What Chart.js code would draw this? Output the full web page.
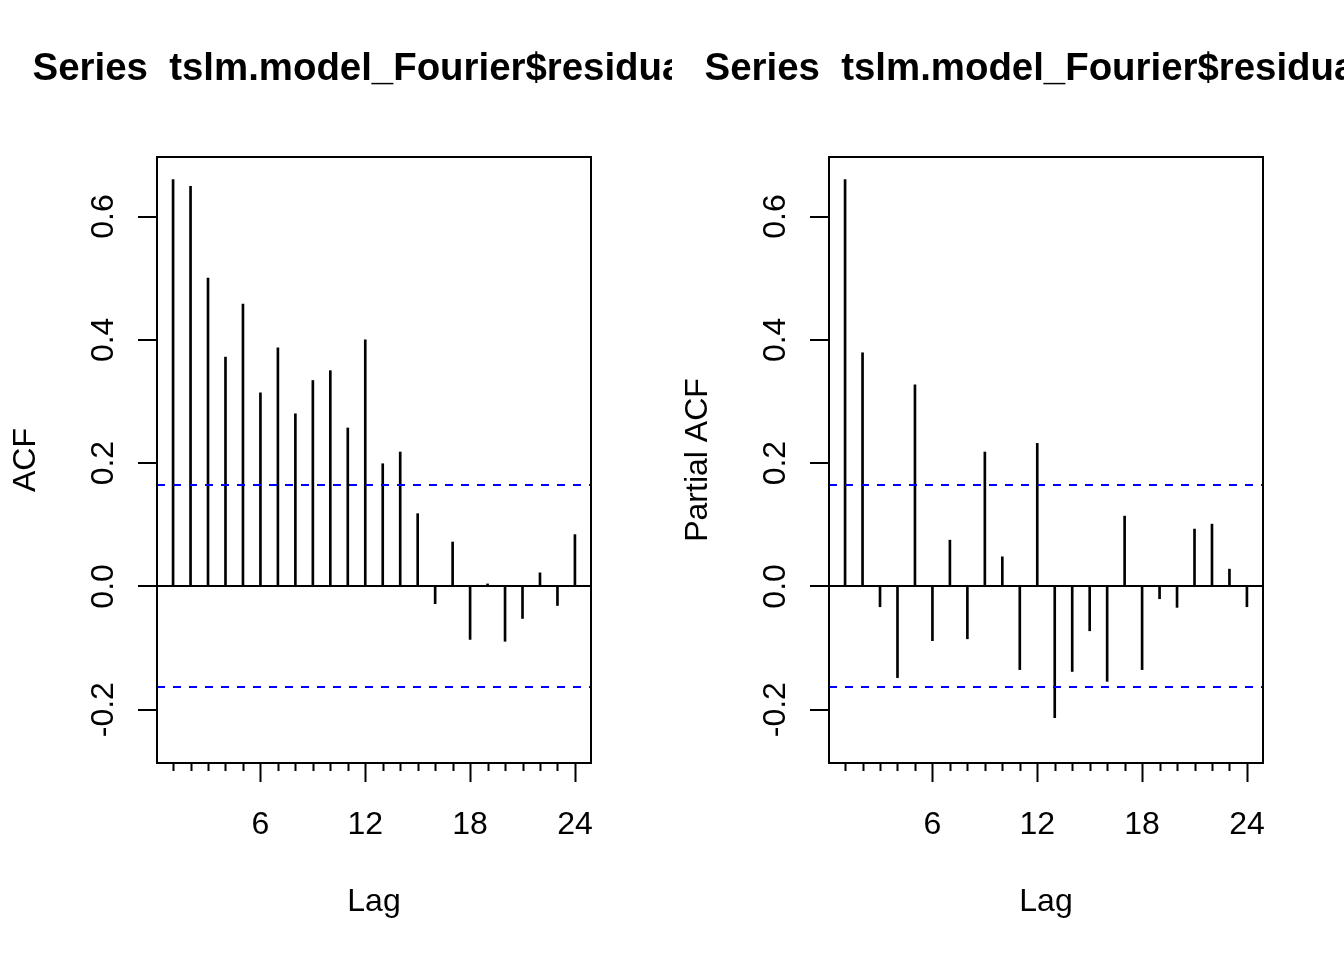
<!DOCTYPE html>
<html>
<head>
<meta charset="utf-8">
<script src="https://cdn.jsdelivr.net/npm/chart.js@4"></script>
<style>
  html, body { margin: 0; padding: 0; background: #ffffff; }
  #wrap { width: 1344px; height: 960px; display: flex; }
  canvas { display: block; }
</style>
</head>
<body>
<div id="wrap">
  <canvas id="acf" width="672" height="960"></canvas>
  <canvas id="pacf" width="672" height="960"></canvas>
</div>
<script>
// values
var lags = [1, 2, 3, 4, 5, 6, 7, 8, 9, 10, 11, 12, 13, 14, 15, 16, 17, 18, 19, 20, 21, 22, 23, 24];
var acf_values = [0.660, 0.649, 0.500, 0.372, 0.458, 0.314, 0.387, 0.280, 0.334, 0.350, 0.257, 0.400,
                  0.199, 0.218, 0.118, -0.028, 0.072, -0.086, 0.004, -0.089, -0.052, 0.022, -0.031, 0.084];
var pacf_values = [0.660, 0.379, -0.033, -0.148, 0.327, -0.088, 0.075, -0.085, 0.218, 0.048, -0.135, 0.232,
                   -0.213, -0.138, -0.072, -0.154, 0.114, -0.135, -0.020, -0.034, 0.093, 0.101, 0.028, -0.033];
var x_tick_labels = [6, 12, 18, 24];
var y_tick_values = [-0.2, 0.0, 0.2, 0.4, 0.6];
var conf_limit = 0.164;
var title_text = 'Series  tslm.model_Fourier$residuals';

const font_family = '"Liberation Sans", Arial, Helvetica, sans-serif';

// R style frame, ticks, labels and limit lines
var r_axes = {
    id: 'r_axes',
    afterDatasetsDraw(chart, args, opts) {
        var ctx = chart.ctx;
        var area = chart.chartArea;
        var xs = chart.scales.x;
        var ys = chart.scales.y;
        ctx.save();

        // zero line
        ctx.strokeStyle = '#000000';
        ctx.lineWidth = 2;
        var y0 = Math.round(ys.getPixelForValue(0));
        ctx.beginPath();
        ctx.moveTo(area.left, y0);
        ctx.lineTo(area.right, y0);
        ctx.stroke();

        // confidence limits
        ctx.strokeStyle = '#0000ff';
        ctx.setLineDash([8, 8]);
        [conf_limit, -conf_limit].forEach(function (v) {
            var yp = Math.round(ys.getPixelForValue(v));
            ctx.beginPath();
            ctx.moveTo(area.left, yp);
            ctx.lineTo(area.right, yp);
            ctx.stroke();
        });
        ctx.setLineDash([]);

        // frame
        ctx.strokeStyle = '#000000';
        ctx.strokeRect(area.left, area.top, area.right - area.left, area.bottom - area.top);

        // x ticks: minor at every lag, major at labels
        ctx.beginPath();
        lags.forEach(function (l) {
            var xp = Math.round(xs.getPixelForValue(l)) + 0.5;
            var len = x_tick_labels.indexOf(l) >= 0 ? 19 : 8;
            ctx.moveTo(xp, area.bottom);
            ctx.lineTo(xp, area.bottom + len);
        });
        // y ticks
        y_tick_values.forEach(function (v) {
            var yp = Math.round(ys.getPixelForValue(v));
            ctx.moveTo(area.left, yp);
            ctx.lineTo(area.left - 19, yp);
        });
        ctx.stroke();

        ctx.fillStyle = '#000000';
        ctx.font = '32px ' + font_family;
        ctx.textAlign = 'center';
        ctx.textBaseline = 'alphabetic';
        x_tick_labels.forEach(function (l) {
            ctx.fillText(String(l), xs.getPixelForValue(l), 834);
        });
        y_tick_values.forEach(function (v) {
            ctx.save();
            ctx.translate(113, ys.getPixelForValue(v));
            ctx.rotate(-Math.PI / 2);
            ctx.fillText(v.toFixed(1), 0, 0);
            ctx.restore();
        });

        var cx = (area.left + area.right) / 2;
        var cy = (area.top + area.bottom) / 2;
        ctx.fillText('Lag', cx, 911);
        ctx.save();
        ctx.translate(35, cy);
        ctx.rotate(-Math.PI / 2);
        ctx.fillText(opts.ylab, 0, 0);
        ctx.restore();

        ctx.font = 'bold 38.4px ' + font_family;
        ctx.fillText(title_text, cx, 80);
        ctx.restore();
    }
};

function make_chart(id, values, ylab) {
    return new Chart(document.getElementById(id), {
        type: 'bar',
        data: {
            datasets: [{
                data: lags.map(function (l, i) { return { x: l, y: values[i] }; }),
                backgroundColor: '#000000',
                borderWidth: 0,
                barThickness: 2
            }]
        },
        options: {
            responsive: false,
            animation: false,
            devicePixelRatio: 1,
            layout: { padding: { left: 157, top: 157, right: 81, bottom: 197 } },
            plugins: {
                legend: { display: false },
                tooltip: { enabled: false },
                title: { display: false },
                r_axes: { ylab: ylab }
            },
            scales: {
                x: { type: 'linear', min: 0.08, max: 24.92, display: false, offset: false },
                y: { type: 'linear', min: -0.2865, max: 0.6966, display: false }
            }
        },
        plugins: [r_axes]
    });
}

make_chart('acf', acf_values, 'ACF');
make_chart('pacf', pacf_values, 'Partial ACF');
</script>
</body>
</html>
